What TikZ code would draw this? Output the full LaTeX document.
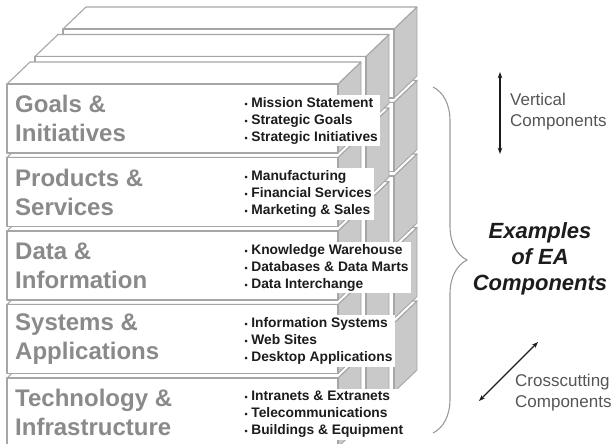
\documentclass[tikz,border=0pt]{standalone}
\usepackage{fontspec}
\setmainfont{Liberation Sans}
\usepackage{tikz}
\usetikzlibrary{calc,arrows.meta,positioning,decorations.pathreplacing}
\definecolor{sidex}{HTML}{C9C9C9}
\definecolor{edgex}{HTML}{A6A6A6}
\definecolor{titlex}{HTML}{8A8A8A}
\definecolor{inkx}{HTML}{1C1C1C}
\definecolor{notex}{HTML}{555555}
\definecolor{bracex}{HTML}{9A9A9A}
\newcommand{\itm}{{\fontsize{9}{9}\selectfont\textbullet}\hspace{3.5pt}}
\tikzset{
  face/.style={draw=edgex,line width=1.1pt,fill=white,line join=round},
  side/.style={draw=edgex,line width=0.9pt,fill=sidex,line join=round},
  layer/.style={anchor=west,align=left,text=titlex,inner sep=0pt,
    font=\bfseries\fontsize{24}{29}\selectfont},
  items/.style={anchor=west,align=left,text=inkx,fill=white,inner sep=2.5pt,
    font=\bfseries\fontsize{13.8}{17}\selectfont},
  ar/.style={{Stealth[length=2.2mm,width=1.6mm]}-{Stealth[length=2.2mm,width=1.6mm]},line width=1.3pt,inkx},
  note/.style={anchor=north west,align=left,text=notex,inner sep=0pt,
    font=\fontsize{17}{20.5}\selectfont}
}
\begin{document}
\begin{tikzpicture}[x=1pt,y=-1pt]
\useasboundingbox (0,0) rectangle (613,444);
\clip (0,0) rectangle (613,444);
\foreach \c in {2,1,0}{
  \foreach \r in {4,3,2,1,0}{
    \pgfmathsetmacro\X{7+28*\c}
    \pgfmathsetmacro\Y{84-27.5*\c+73.5*\r}
    \draw[side] (\X+331,\Y) -- ++(23,-22) -- ++(0,69) -- ++(-23,22) -- cycle;
    \draw[face] (\X,\Y) -- ++(23,-22) -- ++(331,0) -- ++(-23,22) -- cycle;
    \draw[face] (\X,\Y) rectangle ++(331,69);
  }
}
\node[layer] (goals) at (15,118.5) {Goals \&\\Initiatives};
\node[layer] (products) at (15,192) {Products \&\\Services};
\node[layer] (data) at (15,265.5) {Data \&\\Information};
\node[layer] (systems) at (15,339) {Systems \&\\Applications};
\node[layer] (tech) at (15,412.5) {Technology \&\\Infrastructure};
\node[items] (goalsitems) at (242,120.5) {\itm Mission Statement\\\itm Strategic Goals\\\itm Strategic Initiatives};
\node[items] (productsitems) at (242,194) {\itm Manufacturing\\\itm Financial Services\\\itm Marketing \& Sales};
\node[items] (dataitems) at (242,267.5) {\itm Knowledge Warehouse\\\itm Databases \& Data Marts\\\itm Data Interchange};
\node[items] (systemsitems) at (242,341) {\itm Information Systems\\\itm Web Sites\\\itm Desktop Applications};
\node[items] (techitems) at (242,414.5) {\itm Intranets \& Extranets\\\itm Telecommunications\\\itm Buildings \& Equipment};
\coordinate (bracetop) at (433,87);
\coordinate (bracebot) at (433,433);
\draw[bracex,line width=1.1pt,decorate,decoration={brace,amplitude=34pt}] (bracetop) -- (bracebot);
\coordinate (vtop) at (500,72);
\coordinate (vbot) at (500,154);
\draw[ar] (vtop) -- (vbot);
\node[note] (vertical) at (510,93) {Vertical\\Components};
\node[align=center,text=inkx,inner sep=0pt,font=\bfseries\itshape\fontsize{22}{26}\selectfont] (examples) at (540,259) {Examples\\of EA\\Components};
\coordinate (ctail) at (479,401);
\coordinate (chead) at (538,342);
\draw[ar] (ctail) -- (chead);
\node[note] (cross) at (515,374) {Crosscutting\\Components};
\end{tikzpicture}
\end{document}
